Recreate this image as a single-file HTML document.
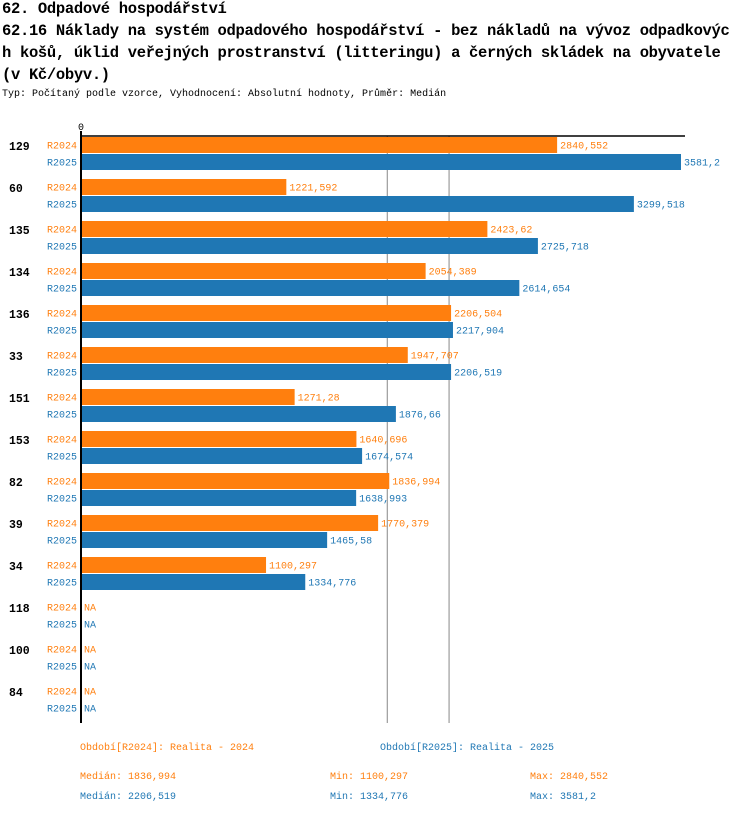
<!DOCTYPE html>
<html><head><meta charset="utf-8"><style>
body{margin:0;background:#fff;width:750px;height:814px;overflow:hidden;font-family:"Liberation Mono","DejaVu Sans Mono",monospace}
.t{position:absolute;left:2px;font-size:15.5px;font-weight:bold;color:#000;white-space:nowrap;letter-spacing:-0.32px}
.s{position:absolute;left:2px;top:89px;font-size:10px;color:#000;white-space:nowrap}
svg text{font-family:"Liberation Mono","DejaVu Sans Mono",monospace}
</style></head><body>
<div class="t" style="top:0px">62. Odpadové hospodářství</div>
<div class="t" style="top:20px;line-height:22px">62.16 Náklady na systém odpadového hospodářství - bez nákladů na vývoz odpadkovýc<br>h košů, úklid veřejných prostranství (litteringu) a černých skládek na obyvatele<br>(v Kč/obyv.)</div>
<div class="s">Typ: Počítaný podle vzorce, Vyhodnocení: Absolutní hodnoty, Průměr: Medián</div>
<svg id="c" width="750" height="814" style="position:absolute;left:0;top:0"></svg>
<script>
const categories=["129","60","135","134","136","33","151","153","82","39","34","118","100","84"];
const r2024=[2840.552,1221.592,2423.62,2054.389,2206.504,1947.707,1271.28,1640.696,1836.994,1770.379,1100.297,null,null,null];
const r2025=[3581.2,3299.518,2725.718,2614.654,2217.904,2206.519,1876.66,1674.574,1638.993,1465.58,1334.776,null,null,null];
const medians=[1836.994,2206.519];
const seriesNames=["R2024","R2025"];
const colors=["#ff7f0e","#1f77b4"];
const NS="http://www.w3.org/2000/svg";
const svg=document.getElementById('c');
const x0=82,scale=(681-82)/3581.2;
const xs=v=>x0+v*scale;
const fmt=v=>String(v).replace('.',',');
function el(tag,attrs,txt){const e=document.createElementNS(NS,tag);for(const k in attrs)e.setAttribute(k,attrs[k]);if(txt!==undefined)e.textContent=txt;svg.appendChild(e);return e;}
medians.forEach((m,i)=>{const l=el('line',{x1:xs(m)-2,x2:xs(m)-2,y1:136,y2:723,stroke:'#888','stroke-width':1});

});
const ax=el('line',{x1:80,x2:685,y1:136,y2:136,stroke:'#000','stroke-width':1.5});


const ay=el('line',{x1:81,x2:81,y1:131,y2:723,stroke:'#000','stroke-width':2});


const z=el('text',{x:78,y:130,'font-size':10,fill:'#000'},'0');


categories.forEach((c,i)=>{
 const gy=137+i*42;
 const lb=el('text',{x:9,y:gy+13,'font-size':11.5,'font-weight':'bold',fill:'#000'},c);
 
 
 [r2024,r2025].forEach((arr,s)=>{
  const y=gy+s*17,v=arr[i];
  const sl=el('text',{x:47,y:y+11.5,'font-size':10,fill:colors[s]},seriesNames[s]);
  
  
  if(v==null){
   const na=el('text',{x:84,y:y+11.5,'font-size':10,fill:colors[s]},'NA');
   
   
   return;}
  const r=el('rect',{x:x0,y:y,width:xs(v)-x0,height:16,fill:colors[s]});
  
  
  const vt=el('text',{x:xs(v)+3,y:y+11.5,'font-size':10,fill:colors[s]},fmt(v));
  
  
 });
});
const foot=[[80,750,'Období[R2024]: Realita - 2024',0],[380,750,'Období[R2025]: Realita - 2025',1],
[80,779,'Medián: 1836,994',0],[330,779,'Min: 1100,297',0],[530,779,'Max: 2840,552',0],
[80,799,'Medián: 2206,519',1],[330,799,'Min: 1334,776',1],[530,799,'Max: 3581,2',1]];
foot.forEach(f=>{const t=el('text',{x:f[0],y:f[1],'font-size':10,fill:colors[f[3]]},f[2]);

});
</script>
</body></html>
